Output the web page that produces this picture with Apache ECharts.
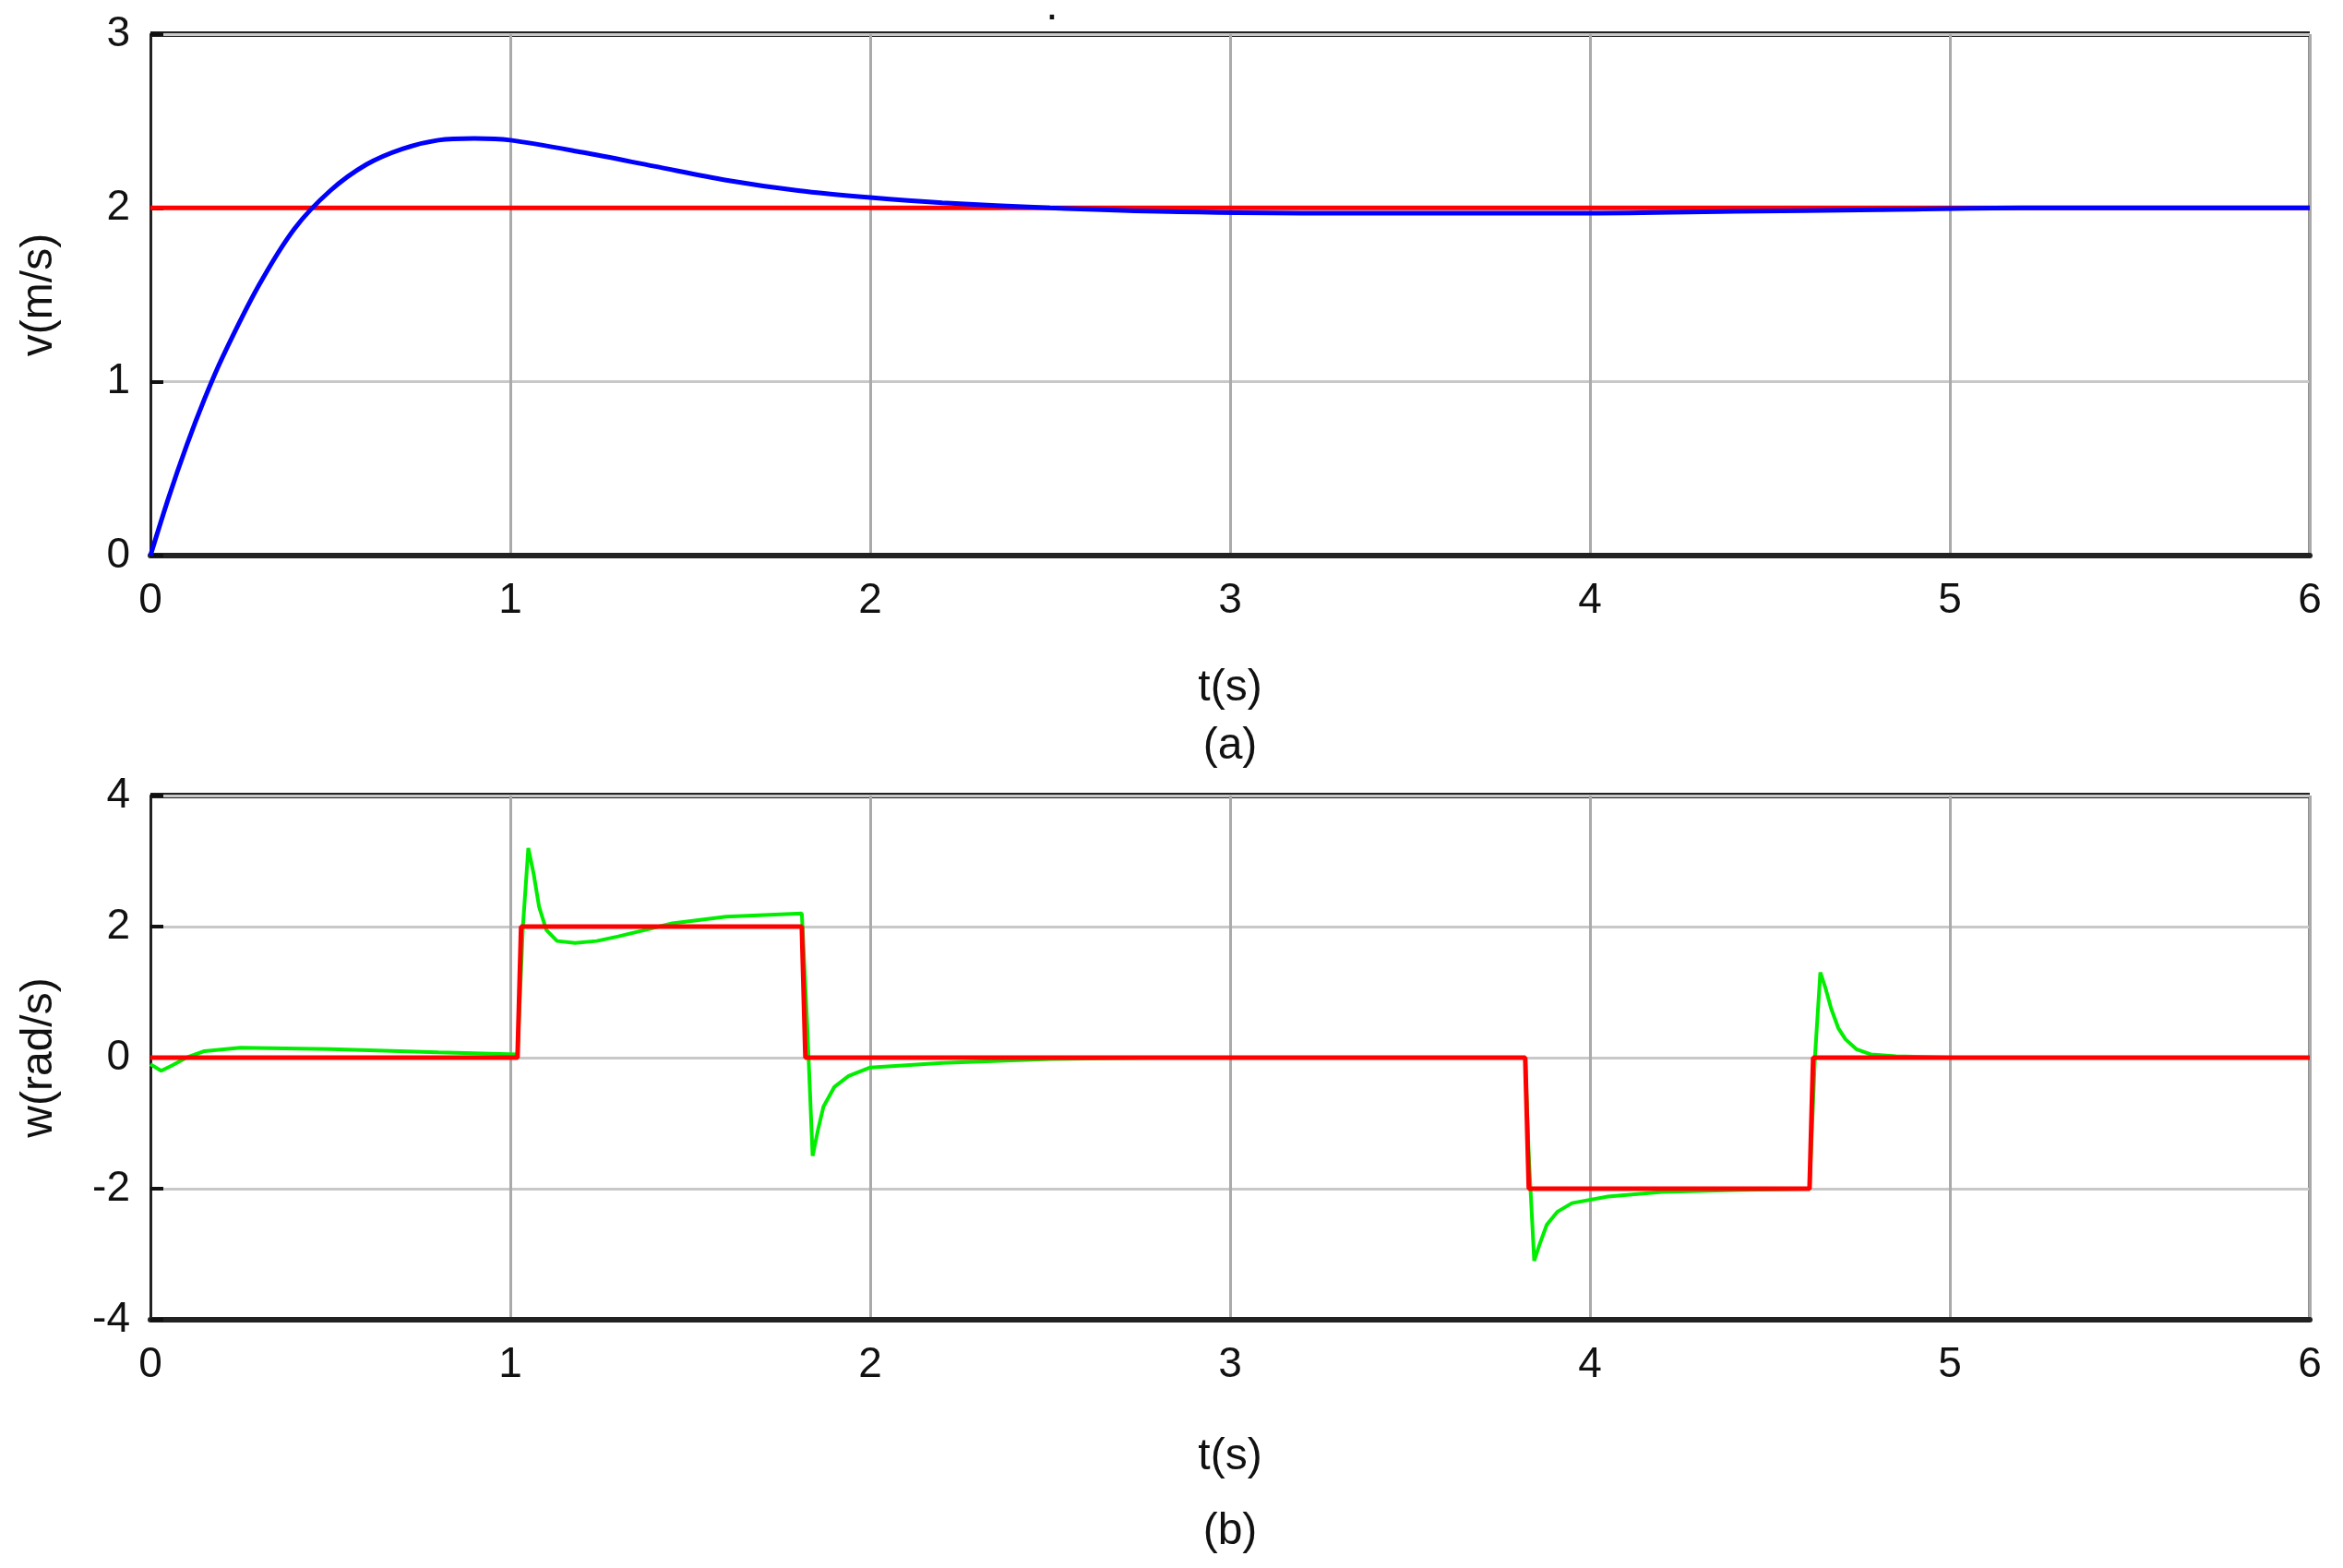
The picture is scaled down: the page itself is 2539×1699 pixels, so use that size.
<!DOCTYPE html>
<html><head><meta charset="utf-8">
<script src="https://cdn.jsdelivr.net/npm/echarts@6/dist/echarts.min.js"></script>
<style>html,body{margin:0;padding:0;background:#fff}#c{width:2539px;height:1699px}</style>
</head><body><div id="c"></div>
<script>
const vRef = [[0,2],[6,2]];
const vAct = [[0,0],[0.05,0.33],[0.1,0.63],[0.15,0.9],[0.2,1.14],[0.3,1.55],[0.4,1.88],[0.5,2.1],[0.6,2.25],[0.7,2.34],[0.8,2.39],[0.9,2.4],[1.0,2.39],[1.2,2.32],[1.4,2.24],[1.6,2.16],[1.8,2.1],[2.0,2.06],[2.2,2.03],[2.5,2.0],[2.8,1.98],[3.2,1.97],[3.6,1.97],[4.0,1.97],[4.4,1.98],[4.8,1.99],[5.2,2.0],[6,2.0]];
const wRef = [[0,0],[1.02,0],[1.03,2],[1.81,2],[1.82,0],[3.82,0],[3.83,-2],[4.61,-2],[4.62,0],[6,0]];
const wAct = [[0,-0.1],[0.03,-0.2],[0.06,-0.12],[0.1,0.0],[0.15,0.1],[0.25,0.15],[0.5,0.13],[0.8,0.08],[1.02,0.05],[1.035,2.0],[1.05,3.2],[1.065,2.8],[1.08,2.3],[1.1,1.95],[1.13,1.78],[1.18,1.75],[1.24,1.78],[1.3,1.85],[1.45,2.05],[1.6,2.15],[1.81,2.2],[1.825,0.5],[1.84,-1.5],[1.855,-1.1],[1.87,-0.75],[1.9,-0.45],[1.94,-0.28],[2.0,-0.15],[2.2,-0.08],[2.5,-0.02],[2.8,0],[3.82,0],[3.83,-1.5],[3.845,-3.1],[3.86,-2.85],[3.88,-2.55],[3.91,-2.35],[3.95,-2.22],[4.05,-2.12],[4.2,-2.05],[4.4,-2.02],[4.61,-2.0],[4.625,0],[4.64,1.3],[4.655,1.05],[4.67,0.75],[4.69,0.45],[4.71,0.28],[4.74,0.13],[4.78,0.05],[4.85,0.02],[5,0],[6,0]];
const F = 'Liberation Sans, Arial, sans-serif';
function xAx(i){return {type:'value',gridIndex:i,min:0,max:6,interval:1,
  axisLine:{show:true,onZero:false,lineStyle:{color:'#222',width:6}},axisTick:{show:false},
  axisLabel:{color:'#111',fontSize:46,fontFamily:F,margin:26},
  splitLine:{show:true,lineStyle:{color:'#aaa',width:3}}};}
function yAx(i,min,max,iv,name){return {type:'value',gridIndex:i,min:min,max:max,interval:iv,
  name:name,nameLocation:'middle',nameGap:96,nameTextStyle:{color:'#111',fontSize:48,fontFamily:F},
  axisLine:{show:true,onZero:false,lineStyle:{color:'#222',width:3}},axisTick:{show:true,inside:true,length:14,lineStyle:{color:'#111',width:4}},
  axisLabel:{color:'#111',fontSize:46,fontFamily:F,margin:22},
  splitLine:{show:true,lineStyle:{color:'#c8c8c8',width:3}}};}
function box(top,h){return [
  {type:'line',shape:{x1:163,y1:top,x2:2503,y2:top},style:{stroke:'#222',lineWidth:6}},
  {type:'line',shape:{x1:2503,y1:top,x2:2503,y2:top+h},style:{stroke:'#222',lineWidth:3}}];}
const txt=(t,x,y)=>({type:'text',x:x,y:y,style:{text:t,fontSize:48,fontFamily:F,fill:'#111',align:'center',verticalAlign:'middle'}});
const chart = echarts.init(document.getElementById('c'));
chart.setOption({
  animation:false,backgroundColor:'#fff',
  grid:[{left:163,top:37,width:2340,height:565},{left:163,top:862,width:2340,height:568}],
  xAxis:[xAx(0),xAx(1)],
  yAxis:[yAx(0,0,3,1,'v(m/s)'),yAx(1,-4,4,2,'w(rad/s)')],
  graphic:[...box(37,565),...box(862,568),txt('t(s)',1333,746),txt('(a)',1333,809),txt('t(s)',1333,1579),txt('(b)',1333,1660),txt('.',1140,8)],
  series:[
    {type:'line',xAxisIndex:0,yAxisIndex:0,data:vRef,showSymbol:false,lineStyle:{color:'#ff0000',width:5},z:3},
    {type:'line',xAxisIndex:0,yAxisIndex:0,data:vAct,showSymbol:false,smooth:0.3,lineStyle:{color:'#0000ff',width:5},z:4},
    {type:'line',xAxisIndex:1,yAxisIndex:1,data:wAct,showSymbol:false,lineStyle:{color:'#00ee00',width:4},z:3},
    {type:'line',xAxisIndex:1,yAxisIndex:1,data:wRef,showSymbol:false,lineStyle:{color:'#ff0000',width:5},z:4}
  ]
});
</script></body></html>
